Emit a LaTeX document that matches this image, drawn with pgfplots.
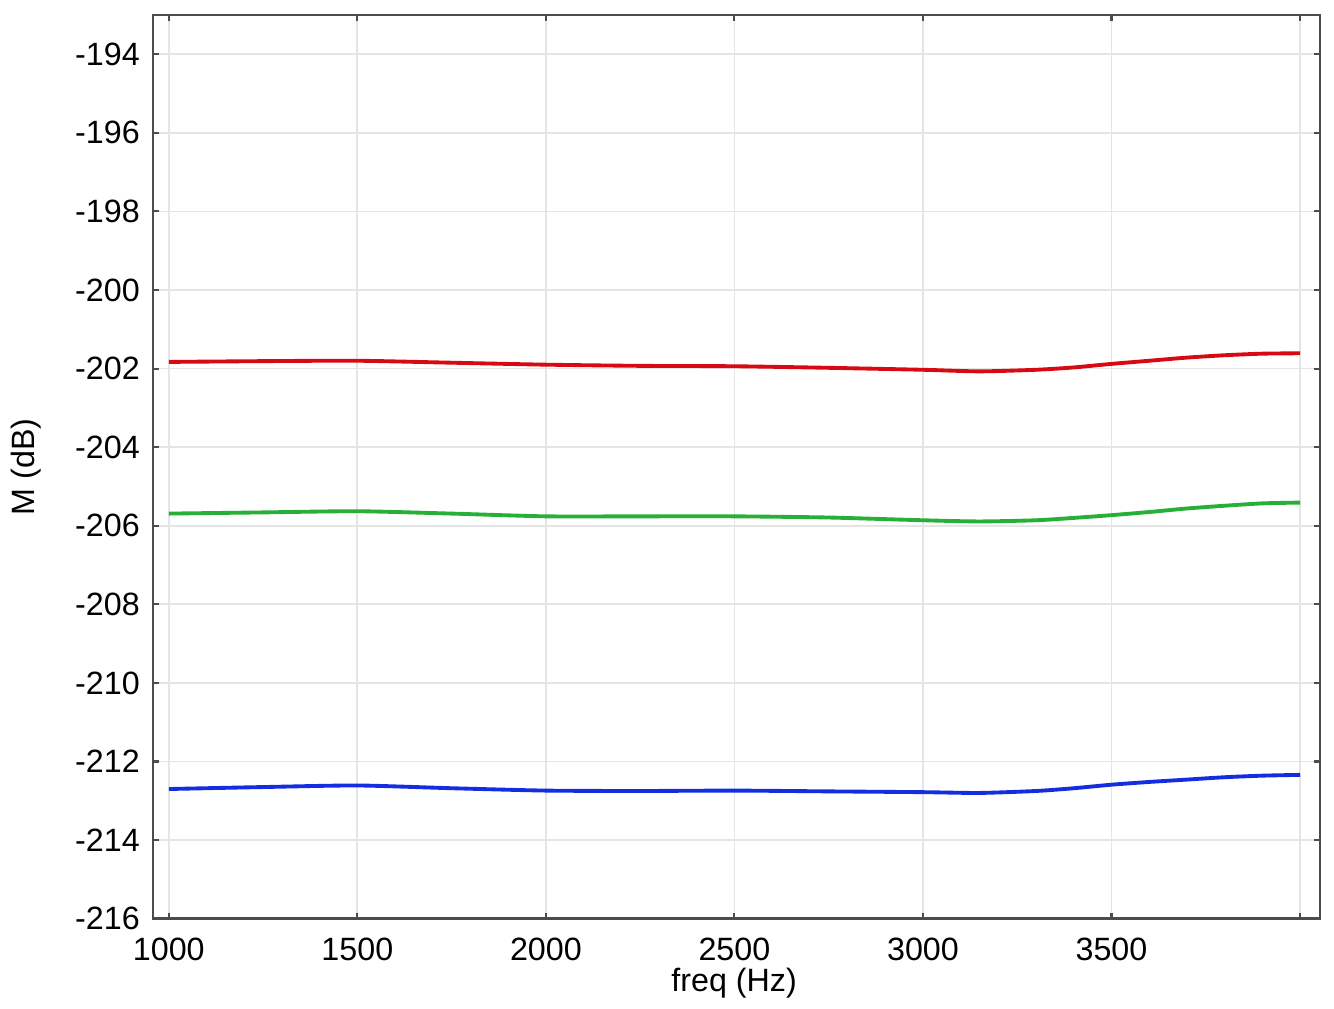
\documentclass[border=0pt]{standalone}
\usepackage{fontspec}
\setmainfont{Liberation Sans}
\usepackage{pgfplots}
\pgfplotsset{compat=1.18}
\definecolor{cred}{RGB}{215,10,20}
\definecolor{cgreen}{RGB}{40,175,55}
\definecolor{cblue}{RGB}{20,45,225}
\begin{document}
\fontsize{9.2}{11}\selectfont
\begin{tikzpicture}
\begin{axis}[
  scale only axis,
  width=11.7cm, height=9.06cm,
  xmin=958, xmax=4053,
  ymin=-216, ymax=-193,
  xtick={1000,1500,2000,2500,3000,3500,4000},
  xticklabels={1000,1500,2000,2500,3000,3500,},
  ytick={-216,-214,...,-194},
  /pgf/number format/assume math mode=true,
  scaled x ticks=false,
  tick align=inside,
  major tick length=1.6pt,
  tick style={draw=black!70, line width=0.6pt},
  axis line style={draw=black!70, line width=0.7pt},
  grid=major,
  major grid style={draw=black!10, line width=0.5pt},
  xlabel={freq (Hz)},
  ylabel={M (dB)},
  xlabel style={at={(rel axis cs:0.498,-0.071)}, anchor=center},
  ylabel style={at={(rel axis cs:-0.109,0.5)}, anchor=center},
  tick label style={font=\fontsize{9.2}{11}\selectfont},
  label style={font=\fontsize{9.2}{11}\selectfont},
  yticklabel style={xshift=-0.5pt},
  xticklabel style={yshift=-2.2pt},
  clip=false,
]
\path[draw=none] (rel axis cs:-0.128,-0.0905) rectangle (rel axis cs:1.012,1.0166);
\addplot[cred, line width=1.1pt, smooth, tension=0.4] coordinates {
(1000,-201.83) (1250,-201.81) (1500,-201.80) (1750,-201.85) (2000,-201.90)
(2250,-201.93) (2500,-201.94) (2750,-201.98) (3000,-202.03) (3150,-202.07)
(3300,-202.03) (3400,-201.97) (3500,-201.88) (3600,-201.80) (3700,-201.72)
(3800,-201.66) (3900,-201.62) (4000,-201.61)};
\addplot[cgreen, line width=1.1pt, smooth, tension=0.4] coordinates {
(1000,-205.69) (1250,-205.66) (1500,-205.63) (1750,-205.69) (2000,-205.76)
(2250,-205.76) (2500,-205.76) (2750,-205.79) (3000,-205.86) (3150,-205.89)
(3300,-205.86) (3400,-205.80) (3500,-205.73) (3600,-205.65) (3700,-205.56)
(3800,-205.49) (3900,-205.43) (4000,-205.41)};
\addplot[cblue, line width=1.1pt, smooth, tension=0.4] coordinates {
(1000,-212.70) (1250,-212.65) (1500,-212.61) (1750,-212.68) (2000,-212.74)
(2250,-212.75) (2500,-212.74) (2750,-212.76) (3000,-212.78) (3150,-212.80)
(3300,-212.75) (3400,-212.68) (3500,-212.59) (3600,-212.52) (3700,-212.46)
(3800,-212.40) (3900,-212.36) (4000,-212.34)};
\end{axis}
\end{tikzpicture}
\end{document}
